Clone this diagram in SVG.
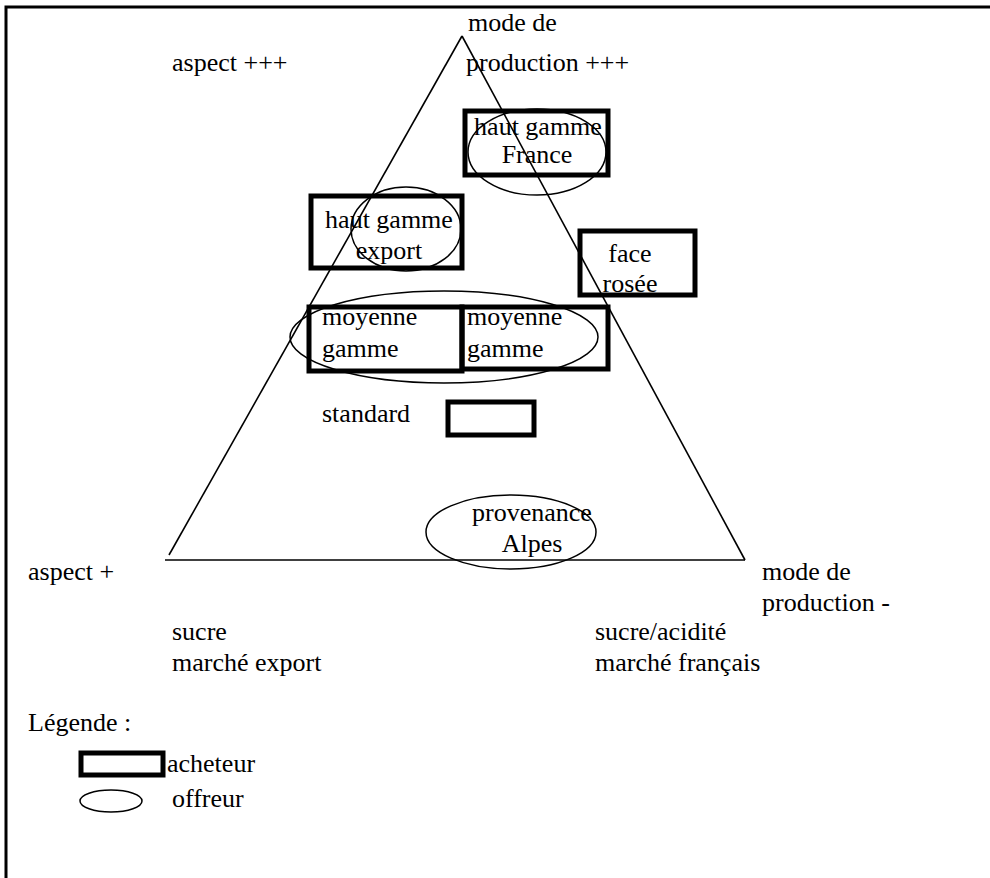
<svg xmlns="http://www.w3.org/2000/svg" width="990" height="878" viewBox="0 0 990 878">
  <style>
    .mid { text-anchor: middle; }
    .buyer { fill: none; stroke: #000; stroke-width: 5; }
    .offer { fill: none; stroke: #000; stroke-width: 1.5; }
    .frame { fill: none; stroke: #000; stroke-width: 3; }
    .axis { fill: none; stroke: #000; stroke-width: 1.6; }
  </style>
  <rect width="990" height="878" fill="#fff"/>

  <!-- page frame (top and left edges) -->
  <path class="frame" d="M6,878 V7 H990"/>

  <!-- triangle of criteria -->
  <g id="connectors">
    <path class="axis" d="M462,36 L169,555"/>
    <path class="axis" d="M462,36 L745,560"/>
    <path class="axis" d="M165,560 H745"/>
  </g>

  <g font-family="'Liberation Serif', 'Times New Roman', serif" font-size="26" fill="#000">

    <!-- corner labels -->
    <g id="corner-labels">
      <text x="468" y="31">mode de</text>
      <text x="466" y="71">production +++</text>
      <text x="172" y="71">aspect +++</text>
      <text x="28" y="580">aspect +</text>
      <text x="762" y="580">mode de</text>
      <text x="762" y="611">production -</text>
      <text x="172" y="640">sucre</text>
      <text x="172" y="671">marché export</text>
      <text x="595" y="640">sucre/acidité</text>
      <text x="595" y="671">marché français</text>
    </g>

    <g id="haut-gamme-france">
      <rect class="buyer" x="465" y="111" width="143" height="64"/>
      <text class="mid" x="538" y="135">haut gamme</text>
      <text class="mid" x="537" y="163">France</text>
      <ellipse class="offer" cx="537" cy="152" rx="69" ry="43"/>
    </g>

    <g id="haut-gamme-export">
      <rect class="buyer" x="311" y="196" width="151" height="72"/>
      <text class="mid" x="389" y="228">haut gamme</text>
      <text class="mid" x="389" y="259">export</text>
      <ellipse class="offer" cx="406" cy="229" rx="55" ry="42"/>
    </g>

    <g id="face-rosee">
      <rect class="buyer" x="580" y="231" width="115" height="64"/>
      <text class="mid" x="630" y="262">face</text>
      <text class="mid" x="630" y="292">rosée</text>
    </g>

    <g id="moyenne-gamme-1">
      <rect class="buyer" x="309" y="307" width="153" height="64"/>
      <text x="322" y="325">moyenne</text>
      <text x="322" y="357">gamme</text>
    </g>

    <g id="moyenne-gamme-2">
      <rect class="buyer" x="462" y="307" width="146" height="62"/>
      <text x="467" y="325">moyenne</text>
      <text x="467" y="357">gamme</text>
    </g>

    <g id="moyenne-gamme-offre">
      <ellipse class="offer" cx="444" cy="337" rx="154" ry="46"/>
    </g>

    <g id="standard">
      <text x="322" y="422">standard</text>
      <rect class="buyer" x="448" y="402" width="86" height="33"/>
    </g>

    <g id="provenance-alpes">
      <ellipse class="offer" cx="511" cy="532" rx="85" ry="37"/>
      <text class="mid" x="532" y="521">provenance</text>
      <text class="mid" x="532" y="552">Alpes</text>
    </g>

    <!-- legend -->
    <g id="legend">
      <text x="28" y="731">Légende :</text>
      <rect class="buyer" x="81" y="753" width="82" height="22"/>
      <text x="167" y="772">acheteur</text>
      <ellipse class="offer" cx="111" cy="801" rx="31" ry="11"/>
      <text x="172" y="807">offreur</text>
    </g>
  </g>
</svg>
